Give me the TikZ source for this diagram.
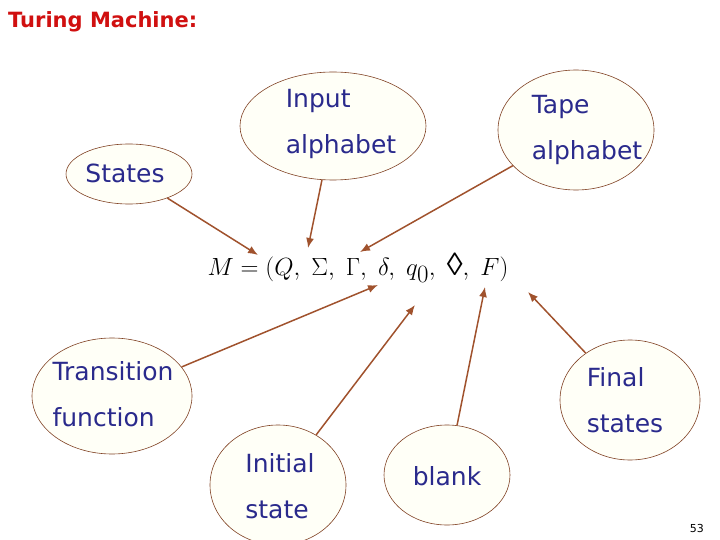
\documentclass[tikz,border=0pt]{standalone}
\usepackage{fontspec}
\usepackage{amssymb}
\setmainfont{DejaVu Sans}
\newfontfamily\formfont{Liberation Serif}
\usetikzlibrary{shapes.geometric,arrows.meta}
\definecolor{lab}{HTML}{2A2A8C}
\definecolor{arr}{HTML}{A0522D}
\definecolor{ttl}{HTML}{D01010}
\tikzset{
 bub/.style={ellipse, draw=arr!80!black, fill=yellow!3, line width=0.6pt, inner sep=0pt},
 lbl/.style={text=lab, font=\fontsize{25}{46}\selectfont, align=left, inner sep=0pt},
 con/.style={draw=arr, line width=1.5pt, -{Latex[length=10pt,width=8pt]}}
}
\begin{document}
\begin{tikzpicture}[x=1pt,y=-1pt]
\useasboundingbox (0,0) rectangle (720,540);
\node[bub, minimum width=126, minimum height=60] (st) at (129,174) {};
\node[bub, minimum width=186, minimum height=108] (in) at (333,126) {};
\node[bub, minimum width=156, minimum height=120] (tp) at (576,130) {};
\node[bub, minimum width=160, minimum height=116] (tr) at (112,396) {};
\node[bub, minimum width=140, minimum height=120] (fi) at (630,400) {};
\node[bub, minimum width=136, minimum height=120] (is) at (278,485) {};
\node[bub, minimum width=126, minimum height=100] (bl) at (447,475) {};
\node[lbl] (tst) at (125,173) {States};
\node[lbl] (tin) at (341,124) {Input\\alphabet};
\node[lbl] (ttp) at (587,130) {Tape\\alphabet};
\node[lbl] (ttr) at (113,394) {Transition\\function};
\node[lbl] (tfi) at (625,400) {Final\\states};
\node[lbl] (tis) at (280,486) {Initial\\state};
\node[lbl] (tbl) at (447,476) {blank};
\node[anchor=west, text=ttl, font=\bfseries\fontsize{21}{24}\selectfont, inner sep=0pt] (title) at (8,22) {Turing Machine:};
\node[anchor=east, font=\fontsize{11}{12}\selectfont, inner sep=0pt] (pg) at (704,528) {53};
\node[font=\fontsize{40}{44}\selectfont, inner sep=0pt] (m) at (358,268) {$M=(Q,\;\Sigma,\;\Gamma,\;\delta,\;q_0,\;\mbox{\formfont\fontsize{32}{36}\selectfont ◊},\;F)$};
\coordinate (aQ) at (258,255);
\coordinate (aS) at (308,248);
\coordinate (aG) at (360,252);
\coordinate (aD) at (378,285);
\coordinate (aq) at (415,305);
\coordinate (ab) at (485,287);
\coordinate (aF) at (528,292);
\draw[con] (st) -- (aQ);
\draw[con] (in) -- (aS);
\draw[con] (tp) -- (aG);
\draw[con] (tr) -- (aD);
\draw[con] (is) -- (aq);
\draw[con] (bl) -- (ab);
\draw[con] (fi) -- (aF);
\end{tikzpicture}
\end{document}
